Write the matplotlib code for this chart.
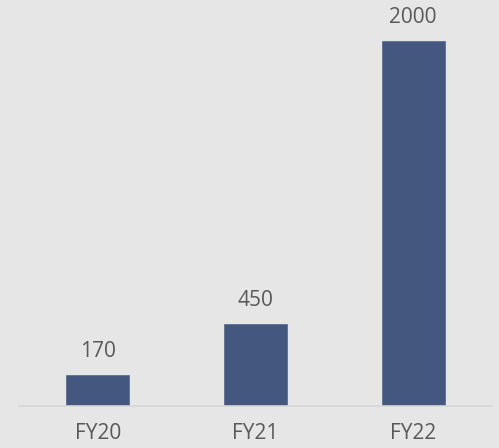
import matplotlib.pyplot as plt

categories = ['FY20', 'FY21', 'FY22']
values = [170, 450, 2000]

bg = '#e7e6e6'
bar_color = '#44587f'
text_color = '#595959'

fig = plt.figure(figsize=(4.99, 4.48), dpi=100, facecolor=bg)
ax = fig.add_axes([19 / 499, 42 / 448, 473 / 499, 406 / 448])
ax.set_facecolor(bg)

x = range(len(categories))
ax.bar(x, values, width=0.4, color=bar_color, edgecolor='#5a6f96', linewidth=0.6, zorder=2)

for xi, v in zip(x, values):
    ax.text(xi, v + 70, str(v), ha='center', va='bottom', fontsize=15,
            color=text_color, family='Open Sans')

ax.set_xlim(-0.5, len(categories) - 0.5)
ax.set_ylim(0, 2000 * 406 / 365)

for s in ['top', 'right', 'left']:
    ax.spines[s].set_visible(False)
ax.spines['bottom'].set_color('#d6d6d6')
ax.spines['bottom'].set_linewidth(1.2)

ax.set_yticks([])
ax.set_xticks(list(x))
ax.set_xticklabels(categories, fontsize=15, color=text_color, family='Open Sans')
ax.tick_params(axis='x', length=0, pad=12)

fig.savefig('out.png', dpi=100, facecolor=bg)
